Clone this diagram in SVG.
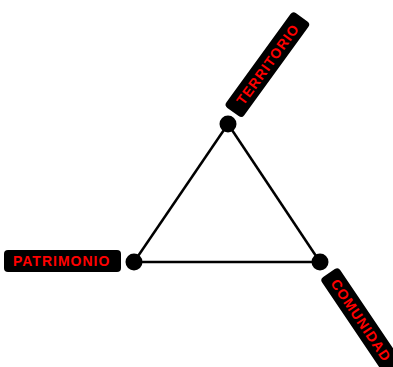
<svg xmlns="http://www.w3.org/2000/svg" width="393" height="367" viewBox="0 0 393 367">
<style>
.box{fill:#000;}
.lbl{fill:#ff0000;font-family:"Liberation Sans",Arial,sans-serif;font-weight:bold;font-size:14px;letter-spacing:1px;}
.edge{stroke:#000;stroke-width:2.5;fill:none;}
.dot{fill:#000;}
</style>
<rect width="393" height="367" fill="#fff"/>
<g id="connectors">
<line class="edge" x1="228" y1="124" x2="134" y2="262"/>
<line class="edge" x1="228" y1="124" x2="320" y2="262"/>
<line class="edge" x1="134" y1="262" x2="320" y2="262"/>
</g>
<g id="territorio">
<circle class="dot" cx="228" cy="124" r="8.5"/>
<g transform="translate(233,112) rotate(-54)">
<rect class="box" x="0" y="-11" width="117" height="22" rx="4"/>
<text class="lbl" x="11" y="5">TERRITORIO</text>
</g>
</g>
<g id="patrimonio">
<circle class="dot" cx="134" cy="262" r="8.5"/>
<g transform="translate(4,261)">
<rect class="box" x="0" y="-11" width="117" height="22" rx="4"/>
<text class="lbl" x="9" y="5">PATRIMONIO</text>
</g>
</g>
<g id="comunidad">
<circle class="dot" cx="320" cy="262" r="8.5"/>
<g transform="translate(329,273) rotate(56)">
<rect class="box" x="0" y="-11" width="117" height="22" rx="4"/>
<text class="lbl" x="9" y="5">COMUNIDAD</text>
</g>
</g>
</svg>
